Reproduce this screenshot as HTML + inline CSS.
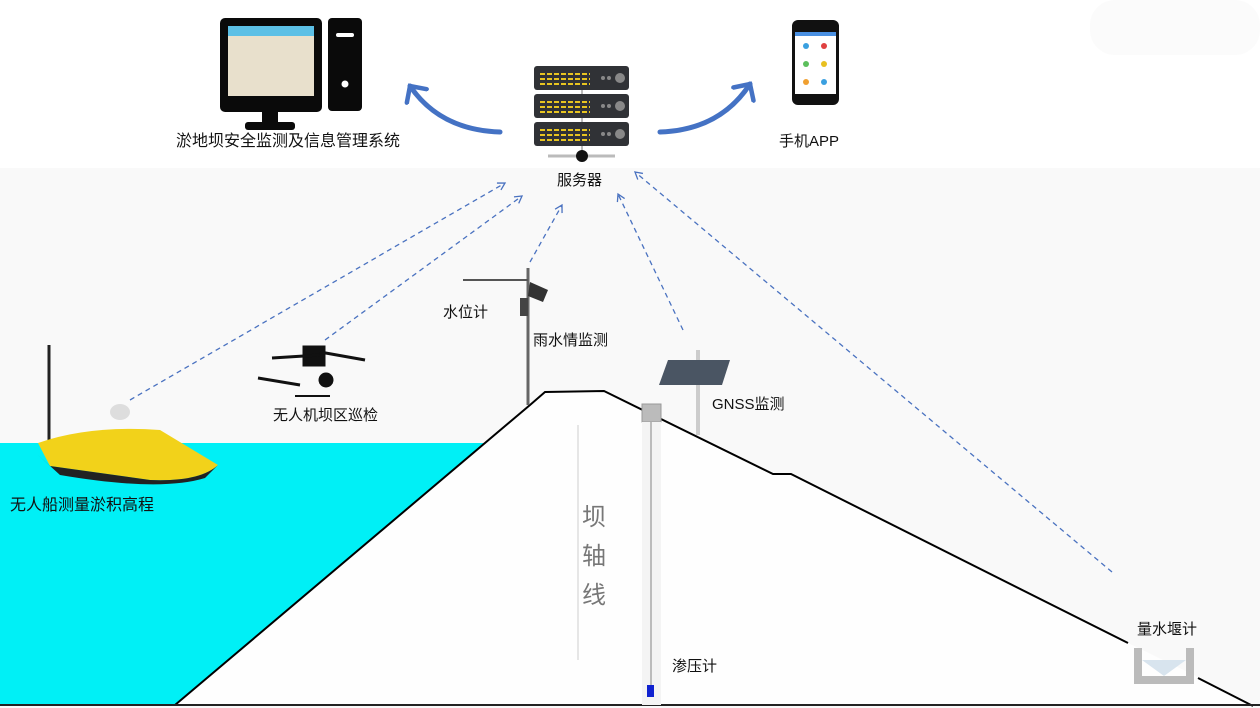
<!DOCTYPE html>
<html><head><meta charset="utf-8"><style>
html,body{margin:0;padding:0;background:#fff;}
svg{display:block;}
text{font-family:"Liberation Sans","Noto Sans CJK SC",sans-serif;fill:#111;}
</style></head><body>
<svg width="1260" height="708" viewBox="0 0 1260 708" xmlns="http://www.w3.org/2000/svg">
<defs>
<marker id="da" markerWidth="10" markerHeight="10" refX="8" refY="5" orient="auto" markerUnits="userSpaceOnUse">
<path d="M1,1 L8,5 L1,9" fill="none" stroke="#4a72c0" stroke-width="1.3"/></marker>
<marker id="ba" markerWidth="30" markerHeight="30" refX="14" refY="15" orient="auto" markerUnits="userSpaceOnUse">
<path d="M2,3 L14,15 L2,27" fill="none" stroke="#4472c4" stroke-width="4.5" stroke-linecap="round"/></marker>
</defs>
<rect width="1260" height="708" fill="#fff"/>
<rect y="168" width="1260" height="540" fill="#f9f9f9"/>
<rect x="1090" y="0" width="170" height="55" rx="25" fill="#fbfbfb"/>
<polygon points="0,443 487,443 175,705 0,705" fill="#00f0f6"/>
<polygon points="175,705 545,392 604,391 773,474 791,474 1128,643 1200,678 1253,706" fill="#fefefe"/>
<polyline points="175,705 530,405 545,392 604,391 773,474 791,474 1128,643" fill="none" stroke="#000" stroke-width="2"/>
<polyline points="1198,678 1253,706" fill="none" stroke="#000" stroke-width="2"/>
<line x1="0" y1="705" x2="1260" y2="705" stroke="#222" stroke-width="2"/>
<line x1="578" y1="425" x2="578" y2="660" stroke="#ddd" stroke-width="1.5"/>
<text x="582" y="525" font-size="24" style="fill:#777">坝</text>
<text x="582" y="564" font-size="24" style="fill:#777">轴</text>
<text x="582" y="603" font-size="24" style="fill:#777">线</text>
<rect x="642" y="404" width="19" height="18" fill="#bbb" stroke="#999"/>
<rect x="642" y="422" width="19" height="283" fill="#f4f4f4"/>
<line x1="651" y1="422" x2="651" y2="686" stroke="#aaa" stroke-width="1.5"/>
<rect x="647" y="685" width="7" height="12" fill="#1022d0"/>
<text x="672" y="671" font-size="15">渗压计</text>
<path d="M1134,648 V684 H1194 V648 H1186 V676 H1142 V648 Z" fill="#bbb"/>
<polygon points="1142,660 1186,660 1164,676" fill="#d8e4ee"/>
<text x="1137" y="634" font-size="15">量水堰计</text>
<line x1="698" y1="350" x2="698" y2="435" stroke="#ccc" stroke-width="4"/>
<polygon points="668,360 730,360 722,385 659,385" fill="#4a5563"/>
<text x="712" y="409" font-size="15">GNSS监测</text>
<line x1="528" y1="268" x2="528" y2="405" stroke="#666" stroke-width="3"/>
<line x1="463" y1="280" x2="528" y2="280" stroke="#555" stroke-width="2"/>
<rect x="520" y="298" width="8" height="18" fill="#444"/>
<polygon points="530,282 548,290 543,302 528,296" fill="#333"/>
<text x="443" y="317" font-size="15">水位计</text>
<text x="533" y="345" font-size="15">雨水情监测</text>
<g fill="#111" stroke="#111">
<rect x="303" y="346" width="22" height="20"/>
<line x1="272" y1="358" x2="320" y2="355" stroke-width="3"/>
<line x1="258" y1="378" x2="300" y2="385" stroke-width="3"/>
<line x1="320" y1="352" x2="365" y2="360" stroke-width="3"/>
<line x1="295" y1="396" x2="330" y2="396" stroke-width="2"/>
<circle cx="326" cy="380" r="7"/>
</g>
<text x="273" y="420" font-size="15">无人机坝区巡检</text>
<line x1="49" y1="345" x2="49" y2="440" stroke="#222" stroke-width="3"/>
<ellipse cx="120" cy="412" rx="10" ry="8" fill="#ddd"/>
<path d="M38,443 Q90,425 160,430 L218,465 Q200,482 150,480 L50,466 Z" fill="#f2d21a"/>
<path d="M38,455 L50,466 L150,480 Q200,482 218,465 L205,478 Q160,492 60,475 Z" fill="#222"/>
<text x="10" y="510" font-size="16">无人船测量淤积高程</text>
<g stroke="#4a72c0" stroke-width="1.3" stroke-dasharray="5,4" fill="none" marker-end="url(#da)">
<line x1="130" y1="400" x2="505" y2="183"/>
<line x1="325" y1="340" x2="522" y2="196"/>
<line x1="530" y1="262" x2="562" y2="205"/>
<line x1="683" y1="330" x2="618" y2="194"/>
<line x1="1112" y1="572" x2="635" y2="172"/>
</g>
<line x1="582" y1="70" x2="582" y2="155" stroke="#bbb" stroke-width="2"/>
<line x1="548" y1="156" x2="615" y2="156" stroke="#bbb" stroke-width="3"/>
<circle cx="582" cy="156" r="6" fill="#111"/>
<g>
<rect x="534" y="66" width="95" height="24" rx="3" fill="#303236"/>
<rect x="534" y="94" width="95" height="24" rx="3" fill="#303236"/>
<rect x="534" y="122" width="95" height="24" rx="3" fill="#303236"/>
<g stroke="#e8c520" stroke-width="2" stroke-dasharray="5,2">
<line x1="540" y1="74" x2="590" y2="74"/><line x1="540" y1="79" x2="590" y2="79"/><line x1="540" y1="84" x2="590" y2="84"/>
<line x1="540" y1="102" x2="590" y2="102"/><line x1="540" y1="107" x2="590" y2="107"/><line x1="540" y1="112" x2="590" y2="112"/>
<line x1="540" y1="130" x2="590" y2="130"/><line x1="540" y1="135" x2="590" y2="135"/><line x1="540" y1="140" x2="590" y2="140"/>
</g>
<g fill="#888"><circle cx="603" cy="78" r="2"/><circle cx="609" cy="78" r="2"/><circle cx="620" cy="78" r="5"/>
<circle cx="603" cy="106" r="2"/><circle cx="609" cy="106" r="2"/><circle cx="620" cy="106" r="5"/>
<circle cx="603" cy="134" r="2"/><circle cx="609" cy="134" r="2"/><circle cx="620" cy="134" r="5"/></g>
</g>
<text x="557" y="185" font-size="15">服务器</text>
<path d="M500,132 Q440,130 410,86" fill="none" stroke="#4472c4" stroke-width="5" stroke-linecap="round" marker-end="url(#ba)"/>
<path d="M660,132 Q720,130 750,84" fill="none" stroke="#4472c4" stroke-width="5" stroke-linecap="round" marker-end="url(#ba)"/>
<rect x="220" y="18" width="102" height="94" rx="5" fill="#0a0a0a"/>
<rect x="228" y="26" width="86" height="70" fill="#e8e0cc"/>
<rect x="228" y="26" width="86" height="10" fill="#5cc0e6"/>
<rect x="262" y="112" width="16" height="10" fill="#0a0a0a"/>
<rect x="245" y="122" width="50" height="8" rx="3" fill="#0a0a0a"/>
<rect x="328" y="18" width="34" height="93" rx="4" fill="#0a0a0a"/>
<rect x="336" y="33" width="18" height="4" rx="2" fill="#fff"/>
<circle cx="345" cy="84" r="3.5" fill="#fff"/>
<text x="176" y="146" font-size="16">淤地坝安全监测及信息管理系统</text>
<rect x="792" y="20" width="47" height="85" rx="6" fill="#111"/>
<rect x="795" y="32" width="41" height="62" fill="#fff"/>
<rect x="795" y="32" width="41" height="4" fill="#4a90e2"/>
<g><circle cx="806" cy="46" r="3" fill="#3aa0e0"/><circle cx="824" cy="46" r="3" fill="#e04040"/>
<circle cx="806" cy="64" r="3" fill="#5cbf5c"/><circle cx="824" cy="64" r="3" fill="#e8c020"/>
<circle cx="806" cy="82" r="3" fill="#f0a030"/><circle cx="824" cy="82" r="3" fill="#3aa0e0"/></g>
<text x="779" y="146" font-size="15">手机APP</text>
</svg>
</body></html>
